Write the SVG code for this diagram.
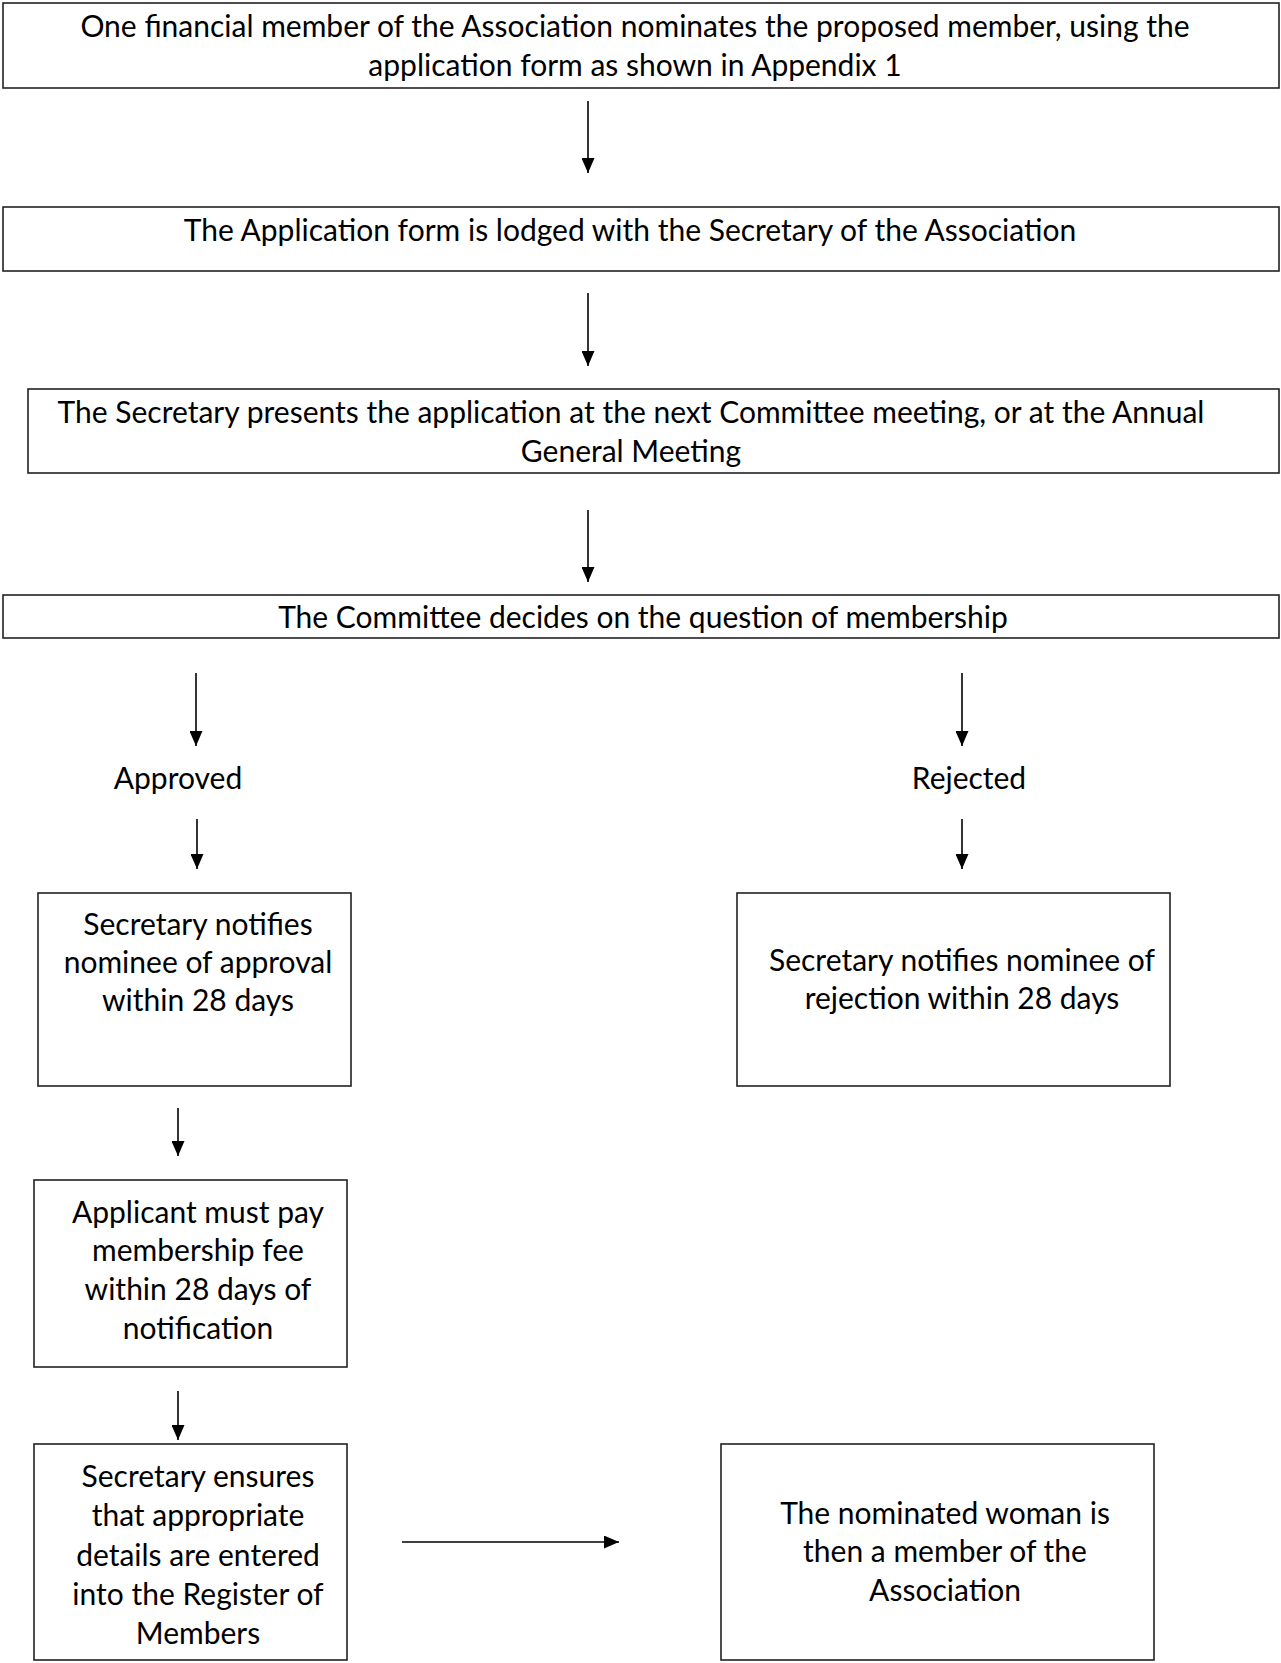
<svg xmlns="http://www.w3.org/2000/svg" width="1281" height="1663" viewBox="0 0 1281 1663">
<style>
.box{fill:#fff;stroke:#222;stroke-width:1.6}
.t{font-family:Lato,"Liberation Sans",sans-serif;font-size:30px;fill:#000;text-anchor:middle}
.c{stroke:#000;stroke-width:1.6;fill:none;marker-end:url(#ah)}
</style>
<defs>
<marker id="ah" markerUnits="userSpaceOnUse" markerWidth="15" markerHeight="13" refX="15" refY="6.5" orient="auto" viewBox="0 0 15 13">
<path d="M0,0 L15,6.5 L0,13 z" fill="#000"/>
</marker>
</defs>
<rect width="1281" height="1663" fill="#fff"/>
<g id="connectors">
<line class="c" x1="588" y1="101" x2="588" y2="173"/>
<line class="c" x1="588" y1="293" x2="588" y2="366"/>
<line class="c" x1="588" y1="510" x2="588" y2="582"/>
<line class="c" x1="196" y1="673" x2="196" y2="746"/>
<line class="c" x1="962" y1="673" x2="962" y2="746"/>
<line class="c" x1="197" y1="819" x2="197" y2="869"/>
<line class="c" x1="962" y1="819" x2="962" y2="869"/>
<line class="c" x1="178" y1="1108" x2="178" y2="1156"/>
<line class="c" x1="178" y1="1391" x2="178" y2="1440"/>
<line class="c" x1="402" y1="1542" x2="619" y2="1542"/>
</g>
<g id="n1"><rect class="box" x="3" y="3" width="1276" height="85"/>
<text class="t" x="635" y="37">One financial member of the Association nominates the proposed member, using the</text>
<text class="t" x="635" y="76">application form as shown in Appendix 1</text></g>
<g id="n2"><rect class="box" x="3" y="207" width="1276" height="64"/>
<text class="t" x="630" y="241">The Application form is lodged with the Secretary of the Association</text></g>
<g id="n3"><rect class="box" x="28" y="389" width="1251" height="84"/>
<text class="t" x="631" y="423">The Secretary presents the application at the next Committee meeting, or at the Annual</text>
<text class="t" x="631" y="462">General Meeting</text></g>
<g id="n4"><rect class="box" x="3" y="595" width="1276" height="43"/>
<text class="t" x="643" y="628">The Committee decides on the question of membership</text></g>
<g id="approved"><text class="t" x="178" y="789">Approved</text></g>
<g id="rejected"><text class="t" x="969" y="789">Rejected</text></g>
<g id="n5"><rect class="box" x="38" y="893" width="313" height="193"/>
<text class="t" x="198" y="935">Secretary notifies</text>
<text class="t" x="198" y="973">nominee of approval</text>
<text class="t" x="198" y="1011">within 28 days</text></g>
<g id="n9"><rect class="box" x="737" y="893" width="433" height="193"/>
<text class="t" x="962" y="971">Secretary notifies nominee of</text>
<text class="t" x="962" y="1009">rejection within 28 days</text></g>
<g id="n6"><rect class="box" x="34" y="1180" width="313" height="187"/>
<text class="t" x="198" y="1223">Applicant must pay</text>
<text class="t" x="198" y="1261">membership fee</text>
<text class="t" x="198" y="1300">within 28 days of</text>
<text class="t" x="198" y="1339">notification</text></g>
<g id="n7"><rect class="box" x="34" y="1444" width="313" height="216"/>
<text class="t" x="198" y="1487">Secretary ensures</text>
<text class="t" x="198" y="1526">that appropriate</text>
<text class="t" x="198" y="1566">details are entered</text>
<text class="t" x="198" y="1605">into the Register of</text>
<text class="t" x="198" y="1644">Members</text></g>
<g id="n8"><rect class="box" x="721" y="1444" width="433" height="216"/>
<text class="t" x="945" y="1524">The nominated woman is</text>
<text class="t" x="945" y="1562">then a member of the</text>
<text class="t" x="945" y="1601">Association</text></g>
</svg>
